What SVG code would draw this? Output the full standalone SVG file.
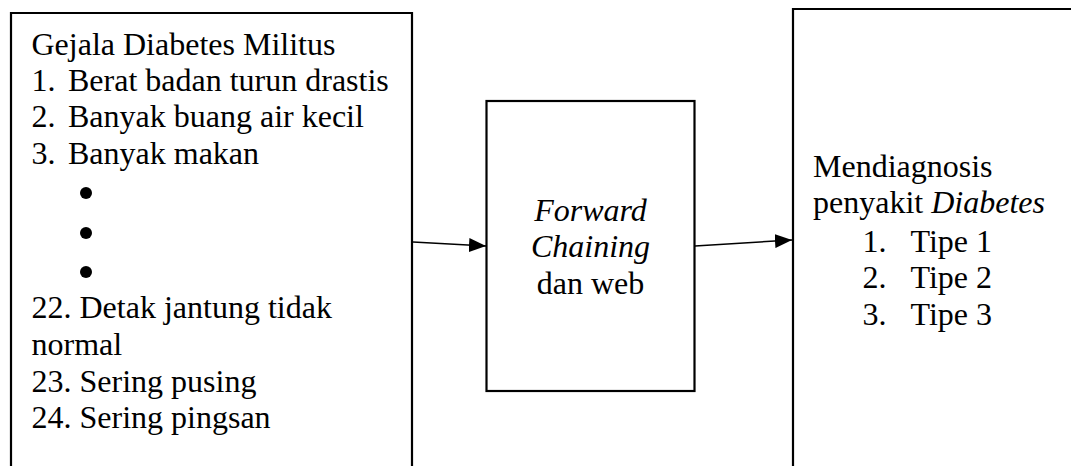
<svg xmlns="http://www.w3.org/2000/svg" width="1071" height="466" viewBox="0 0 1071 466">
<style>
.box{fill:#fff;stroke:#000;stroke-width:2.2}
text{font-size:32px;fill:#000}
.i{font-style:italic}
.conn{stroke:#000;stroke-width:1.5;fill:none}
</style>
<defs>
<marker id="ah" markerWidth="17" markerHeight="14" refX="17" refY="7" orient="auto" markerUnits="userSpaceOnUse">
<path d="M0,0 L17,7 L0,14 z" fill="#000"/>
</marker>
</defs>
<rect width="1071" height="466" fill="#fff"/>
<g font-family="Liberation Serif, Times New Roman, DejaVu Serif, serif">
<g id="input">
<path class="box" d="M11,470 V13 H412 V470"/>
<text x="31.5" y="55">Gejala Diabetes Militus</text>
<text x="31.5" y="91">1.</text><text x="68" y="91">Berat badan turun drastis</text>
<text x="31.5" y="127">2.</text><text x="68" y="127">Banyak buang air kecil</text>
<text x="31.5" y="163.5">3.</text><text x="68" y="163.5">Banyak makan</text>
<circle cx="86" cy="193" r="6"/>
<circle cx="86" cy="233" r="6"/>
<circle cx="86" cy="272" r="6"/>
<text x="31.5" y="317.5">22. Detak jantung tidak</text>
<text x="31.5" y="355">normal</text>
<text x="31.5" y="391.5">23. Sering pusing</text>
<text x="31.5" y="428">24. Sering pingsan</text>
</g>
<g id="process">
<rect class="box" x="486.5" y="101" width="208" height="290"/>
<text class="i" x="590.5" y="221" text-anchor="middle">Forward</text>
<text class="i" x="590.5" y="257" text-anchor="middle">Chaining</text>
<text x="590.5" y="293.5" text-anchor="middle">dan web</text>
</g>
<g id="output">
<path class="box" d="M793,470 V9 H1075"/>
<text x="813" y="177">Mendiagnosis</text>
<text x="813" y="213">penyakit <tspan class="i">Diabetes</tspan></text>
<text x="862.5" y="251.5">1.</text><text x="910.5" y="251.5">Tipe 1</text>
<text x="862.5" y="288">2.</text><text x="910.5" y="288">Tipe 2</text>
<text x="862.5" y="325">3.</text><text x="910.5" y="325">Tipe 3</text>
</g>
</g>
<g id="connectors">
<line class="conn" x1="413" y1="242" x2="486" y2="246" marker-end="url(#ah)"/>
<line class="conn" x1="695" y1="246" x2="792" y2="240" marker-end="url(#ah)"/>
</g>
</svg>
